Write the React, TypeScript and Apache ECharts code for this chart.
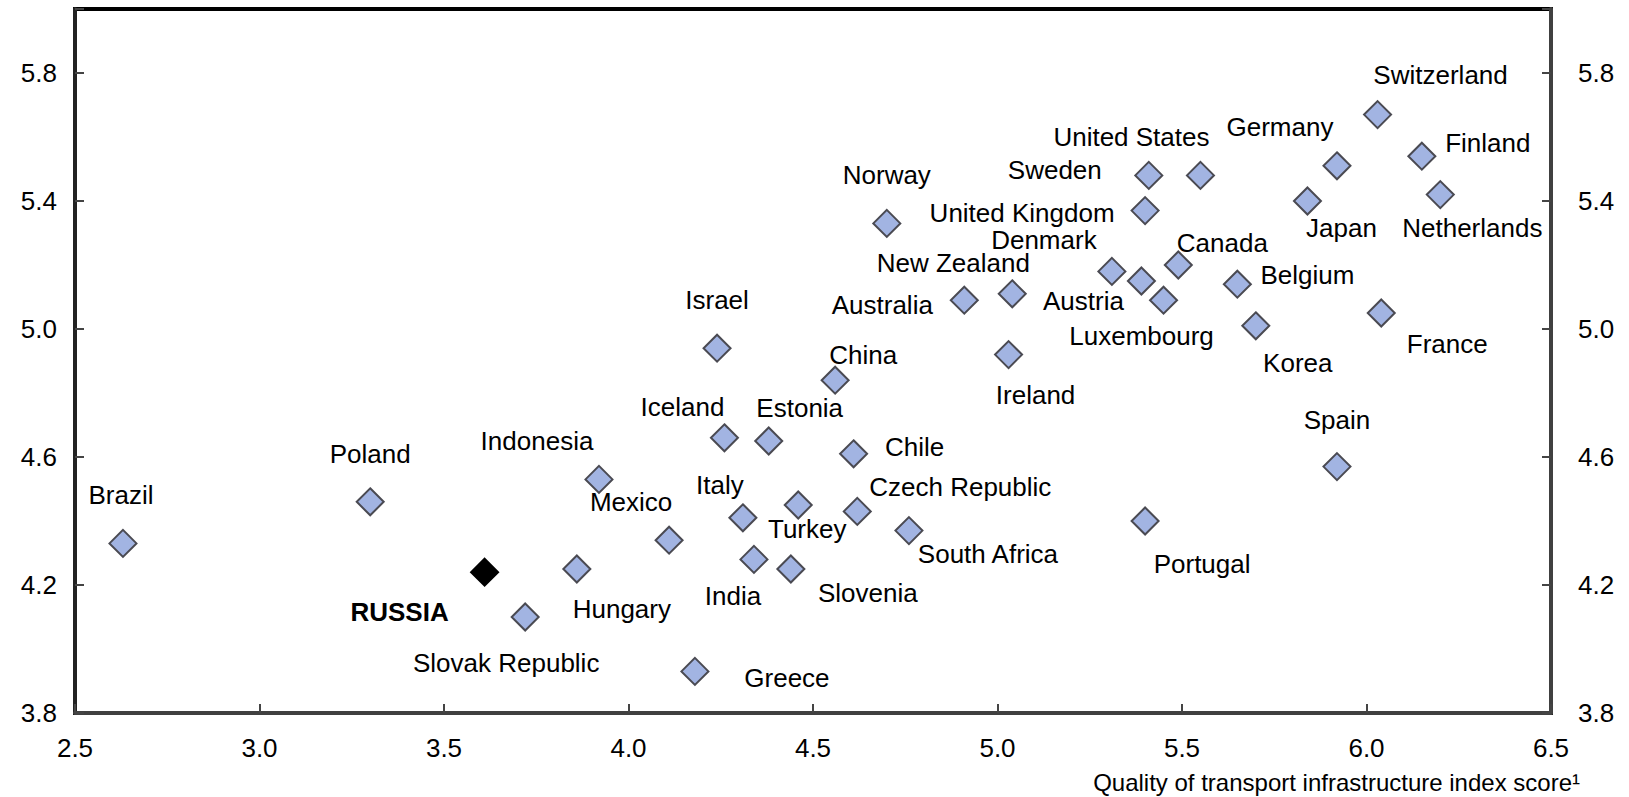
import React, { useEffect, useRef } from "react";
import * as echarts from "echarts";

const countries = [
  "Brazil", "Poland", "RUSSIA", "Slovak Republic", "Hungary", "Indonesia", "Mexico", "Greece",
  "Israel", "Iceland", "Italy", "India", "Estonia", "Slovenia", "Turkey", "China", "Chile",
  "Czech Republic", "South Africa", "Norway", "Australia", "New Zealand", "Denmark", "Austria",
  "Ireland", "United Kingdom", "Sweden", "United States", "Canada", "Luxembourg", "Belgium",
  "Korea", "Spain", "Portugal", "Japan", "Germany", "Switzerland", "Finland", "Netherlands", "France",
];

const transportScore = [
  2.63, 3.30, 3.61, 3.72, 3.86, 3.92, 4.11, 4.18,
  4.24, 4.26, 4.31, 4.34, 4.38, 4.44, 4.46, 4.56, 4.61,
  4.62, 4.76, 4.70, 4.91, 5.04, 5.31, 5.39,
  5.03, 5.40, 5.41, 5.55, 5.49, 5.45, 5.65,
  5.70, 5.92, 5.40, 5.84, 5.92, 6.03, 6.15, 6.20, 6.04,
];

const otherScore = [
  4.33, 4.46, 4.24, 4.10, 4.25, 4.53, 4.34, 3.93,
  4.94, 4.66, 4.41, 4.28, 4.65, 4.25, 4.45, 4.84, 4.61,
  4.43, 4.37, 5.33, 5.09, 5.11, 5.18, 5.15,
  4.92, 5.37, 5.48, 5.48, 5.20, 5.09, 5.14,
  5.01, 4.57, 4.40, 5.40, 5.51, 5.67, 5.54, 5.42, 5.05,
];

const yTickLabels = ["3.8", "4.2", "4.6", "5.0", "5.4", "5.8"];
const xTickLabels = ["2.5", "3.0", "3.5", "4.0", "4.5", "5.0", "5.5", "6.0", "6.5"];

// label placement (pixel offset of label centre from marker centre)
const labelOffsets: [number, number][] = [
  [-2, -48], [0, -48], [-85, 40], [-19, 46], [45, 40], [-62, -38], [-38, -38], [92, 7],
  [0, -48], [-42, -31], [-23, -33], [-21, 37], [31, -33], [77, 24], [9, 24], [28, -25], [61, -7],
  [103, -24], [79, 23], [0, -48], [-82, 5], [-59, -31], [-68, -31], [-58, 20],
  [27, 40], [-123, 2], [-94, -5], [-69, -38], [44, -22], [-22, 36], [70, -9],
  [42, 37], [0, -47], [57, 43], [34, 27], [-57, -39], [63, -40], [66, -13], [32, 33], [66, 31],
];

const FONT = "'Liberation Sans', Arial, Helvetica, sans-serif";

export default function App() {
  const ref = useRef<HTMLDivElement>(null);

  useEffect(() => {
    document.body.style.margin = "0";
    const chart = echarts.init(ref.current!, undefined, { renderer: "svg" });

    const data = countries.map((name, i) => {
      const isRussia = name === "RUSSIA";
      return {
        name,
        value: [transportScore[i], otherScore[i]],
        itemStyle: isRussia
          ? { color: "#000000", borderColor: "#000000", borderWidth: 2, opacity: 1 }
          : undefined,
        label: {
          offset: labelOffsets[i],
          fontWeight: isRussia ? "bold" : "normal",
        },
      };
    });

    const yLabelFmt = (v: number) => {
      const s = v.toFixed(1);
      return yTickLabels.indexOf(s) >= 0 ? s : "";
    };
    const xLabelFmt = (v: number) => {
      const s = v.toFixed(1);
      return xTickLabels.indexOf(s) >= 0 ? s : "";
    };

    chart.setOption({
      animation: false,
      backgroundColor: "#ffffff",
      textStyle: { fontFamily: FONT },
      grid: {
        left: 75,
        right: 78,
        top: 9,
        bottom: 84,
        show: true,
        borderColor: "#000000",
        borderWidth: 4,
        backgroundColor: "transparent",
      },
      xAxis: {
        type: "value",
        min: 2.5,
        max: 6.5,
        interval: 0.5,
        splitLine: { show: false },
        axisLine: { show: true, onZero: false, lineStyle: { color: "#404040", width: 4 } },
        axisTick: { show: true, inside: true, length: 9, lineStyle: { color: "#444444", width: 2 } },
        axisLabel: {
          formatter: xLabelFmt,
          color: "#000000",
          fontSize: 26,
          fontFamily: FONT,
          margin: 22,
        },
      },
      yAxis: [
        {
          type: "value",
          position: "left",
          min: 3.8,
          max: 6.0,
          interval: 0.4,
          splitLine: { show: false },
          axisLine: { show: true, onZero: false, lineStyle: { color: "#222222", width: 4 } },
          axisTick: { show: true, inside: true, length: 9, lineStyle: { color: "#444444", width: 2 } },
          axisLabel: {
            formatter: yLabelFmt,
            color: "#000000",
            fontSize: 26,
            fontFamily: FONT,
            margin: 18,
          },
        },
        {
          type: "value",
          position: "right",
          min: 3.8,
          max: 6.0,
          interval: 0.4,
          splitLine: { show: false },
          axisLine: { show: true, onZero: false, lineStyle: { color: "#404040", width: 4 } },
          axisTick: { show: true, inside: true, length: 9, lineStyle: { color: "#444444", width: 2 } },
          axisLabel: {
            formatter: yLabelFmt,
            color: "#000000",
            fontSize: 26,
            fontFamily: FONT,
            margin: 27,
          },
        },
      ],
      series: [
        {
          type: "scatter",
          yAxisIndex: 0,
          symbol: "diamond",
          symbolSize: 27,
          itemStyle: { color: "#a2b4e2", borderColor: "#4a4a52", borderWidth: 2, opacity: 1 },
          label: {
            show: true,
            position: "inside",
            formatter: "{b}",
            color: "#000000",
            fontSize: 26,
            fontFamily: FONT,
            align: "center",
            verticalAlign: "middle",
          },
          emphasis: { disabled: true },
          data,
        },
      ],
      graphic: [
        {
          type: "text",
          right: 49,
          top: 770,
          style: {
            text: "Quality of transport infrastructure index score\u00b9",
            fill: "#000000",
            font: `24px ${FONT}`,
          },
        },
      ],
    });

    return () => chart.dispose();
  }, []);

  return (
    <div
      ref={ref}
      style={{ position: "fixed", left: 0, top: 0, width: 1629, height: 797 }}
    />
  );
}
